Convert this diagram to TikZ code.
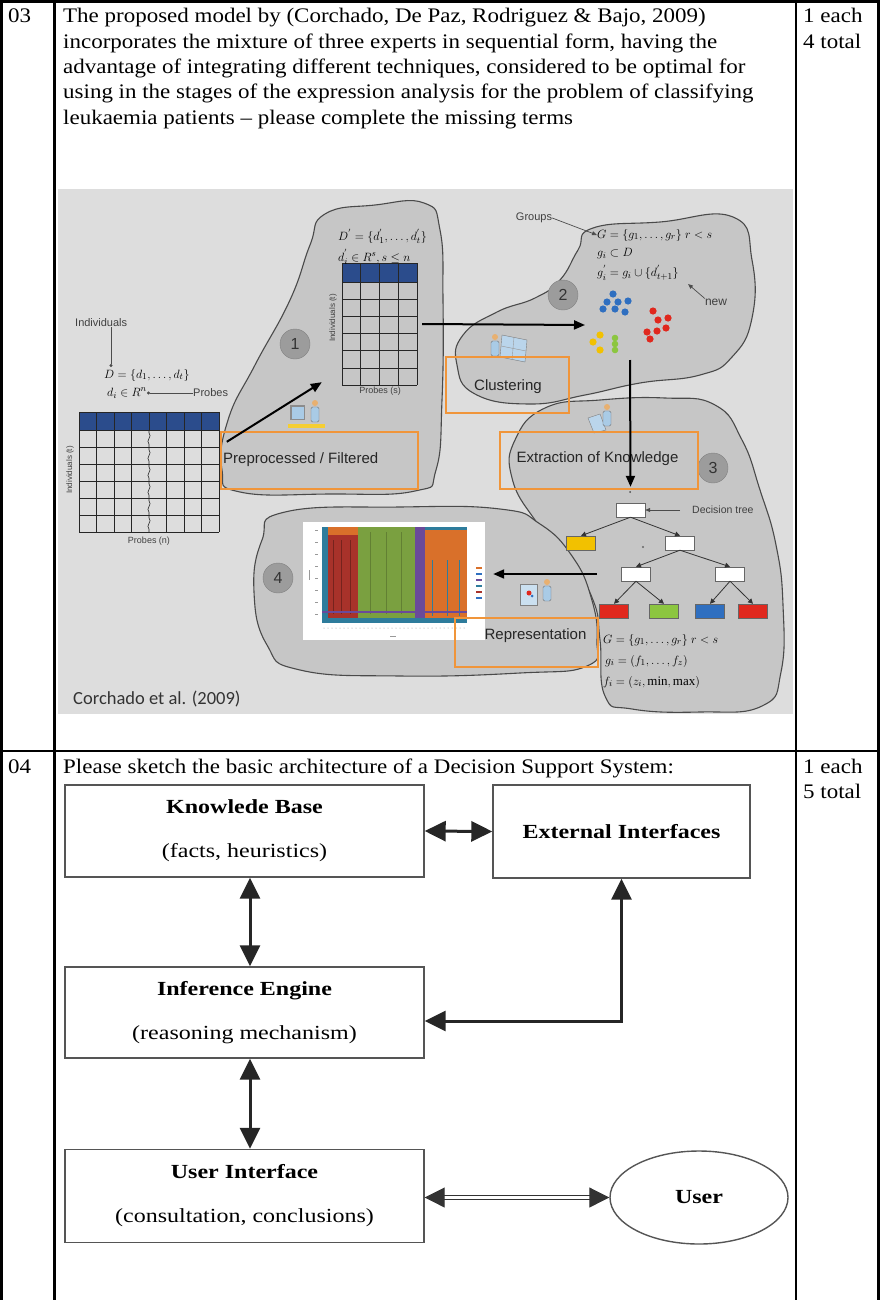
\documentclass[tikz,border=0pt]{standalone}
\usepackage{fontspec}
\setmainfont{Liberation Serif}
\setsansfont{Liberation Sans}
\newfontfamily\bodyfont{Liberation Serif}[FakeStretch=1.11]
\newfontfamily\dssfont{Liberation Serif}[FakeStretch=1.2]
\newfontfamily\creditfont{Carlito}
\usetikzlibrary{arrows.meta,shapes.geometric,positioning}

\definecolor{imgbg}{HTML}{DDDDDD}
\definecolor{blobfill}{HTML}{C6C6C6}
\definecolor{blobline}{HTML}{4A4A4A}
\definecolor{hilite}{HTML}{F0953A}
\definecolor{hdrblue}{HTML}{2B4C8C}
\definecolor{stepgray}{HTML}{9C9C9C}
\definecolor{boxline}{HTML}{555555}
\definecolor{iconblue}{HTML}{A9CBE6}
\definecolor{iconskin}{HTML}{E8B070}
\definecolor{leafred}{HTML}{E0281E}
\definecolor{leafgreen}{HTML}{8CC640}
\definecolor{leafblue}{HTML}{2F6FC0}
\definecolor{leafyellow}{HTML}{F2C100}
\definecolor{heatteal}{HTML}{2E7C9C}
\definecolor{heatred}{HTML}{A8322A}
\definecolor{heatgreen}{HTML}{7AA040}
\definecolor{heatpurple}{HTML}{6A4A9A}
\definecolor{heatorange}{HTML}{D9702A}

\newcommand{\bodysize}{\fontsize{20.7}{25.3}\selectfont}

% small figure: head at (#1,#2)
\newcommand{\drawworker}[2]{%
  \fill[iconskin] (#1,#2) circle (3pt);
  \filldraw[fill=iconblue, draw=black!55, line width=0.4pt, rounded corners=1.5pt]
    ({#1-4},{#2+4}) rectangle ({#1+4},{#2+19});
}

\tikzset{
  rule/.style={line width=2.7pt},
  blob/.style={fill=blobfill, draw=blobline, line width=1.1pt},
  marker/.style={circle, fill=stepgray, draw=gray, minimum size=30pt, inner sep=0pt,
    font=\sffamily\fontsize{16}{16}\selectfont, text=black!80},
  orangebox/.style={draw=hilite, line width=2.4pt},
  small/.style={font=\sffamily\fontsize{11}{12}\selectfont, text=black!75, inner sep=0pt},
  stage/.style={font=\sffamily\fontsize{15}{16}\selectfont, text=black!85, inner sep=0pt},
  formula/.style={font=\fontsize{13}{15}\selectfont, inner sep=0pt, anchor=west},
  flow/.style={-{Triangle[length=11pt,width=9pt]}, line width=2pt},
  thin flow/.style={-{Triangle[length=5pt,width=4pt]}, line width=0.7pt, black!70},
  dot flow/.style={-{Circle[length=3pt]}, line width=0.7pt, black!70},
  treebox/.style={draw=black!60, fill=white, minimum width=29pt, minimum height=14pt, inner sep=0pt},
  treeedge/.style={-{Triangle[length=5pt,width=5pt]}, line width=0.8pt, black!80},
  dssbox/.style={draw=boxline, line width=1.4pt, align=center,
    font=\dssfont\fontsize{20}{44}\selectfont},
  dssarrow/.style={{Triangle[length=21pt,width=20pt]}-{Triangle[length=21pt,width=20pt]},
    line width=3pt, black!85},
  dsspipe/.style={{Triangle[length=20pt,width=20pt]}-{Triangle[length=20pt,width=20pt]},
    double=white, double distance=2.4pt, line width=1pt, black!80},
}

\begin{document}
\begin{tikzpicture}[x=1pt, y=-1pt]
\useasboundingbox (0,0) rectangle (880,1300);

% Table rules
\draw[rule] (1.3,1300) -- (1.3,1.3) -- (878.5,1.3) -- (878.5,1300);
\draw[rule] (54.5,1.3) -- (54.5,1300);
\draw[rule] (796,1.3) -- (796,1300);
\draw[rule] (1.3,751) -- (878.5,751);

% Question 03 (multi-line nodes sit on their last baseline)
\node (q3) [anchor=base west, inner sep=0pt, font=\bodyfont\bodysize] at (8,23) {03};
\node (q3text) [anchor=base west, align=left, inner sep=0pt, font=\bodyfont\bodysize] at (63,124.2)
  {The proposed model by (Corchado, De Paz, Rodriguez \& Bajo, 2009)\\
   incorporates the mixture of three experts in sequential form, having the\\
   advantage of integrating different techniques, considered to be optimal for\\
   using in the stages of the expression analysis for the problem of classifying\\
   leukaemia patients – please complete the missing terms};
\node (q3marks) [anchor=base west, align=left, inner sep=0pt, font=\bodyfont\bodysize] at (803,48.3)
  {1 each\\4 total};

% Figure background and stages
\fill[imgbg] (58,189) rectangle (793,714);

\draw[blob] plot[smooth cycle, tension=0.8] coordinates {(325,214) (375,205) (424,203) (440,230)
  (443,300) (442,400) (436,470) (415,491) (330,494) (240,492) (222,470) (228,420) (255,365)
  (290,300) (310,245)};
\draw[blob] plot[smooth cycle, tension=0.8] coordinates {(593,228) (660,222) (733,217) (752,260)
  (752,318) (732,357) (700,375) (640,383) (585,395) (530,404) (475,394) (457,365) (463,335)
  (497,312) (535,298) (560,280) (578,250)};
\draw[blob] plot[smooth cycle, tension=0.8] coordinates {(515,440) (545,408) (600,400) (665,398)
  (715,405) (742,440) (760,490) (776,545) (783,605) (781,672) (762,706) (700,712) (632,709)
  (605,696) (600,640) (593,600) (568,558) (535,520) (512,478)};
\draw[blob] plot[smooth cycle, tension=0.8] coordinates {(285,512) (400,507) (500,509) (540,524)
  (572,556) (591,597) (597,640) (587,666) (520,673) (400,676) (300,670) (267,645) (254,592)
  (262,540)};

\node (m1) [marker] at (295,344) {1};
\node (m2) [marker] at (563,295) {2};
\node (m3) [marker] at (713,468) {3};
\node (m4) [marker] at (278,578) {4};

% Raw data table
\fill[hdrblue] (79,412) rectangle (219,430);
\foreach \r in {0,...,6}
  \draw[black!85, line width=0.9pt] (79,{430+17*\r}) -- (219,{430+17*\r});
\draw[black!85, line width=0.9pt] (79,412) -- (219,412);
\foreach \c in {0,1,2,3,5,6,7,8}
  \draw[black!85, line width=0.9pt] ({79+17.5*\c},412) -- ({79+17.5*\c},532);
\draw[black!85, line width=0.6pt] (149,412) -- (149,430);
\foreach \r in {0,...,5}
  \draw[black!85, line width=0.6pt] (149,{430+17*\r}) -- (149,{433+17*\r})
    .. controls (153,{436+17*\r}) and (145,{441+17*\r}) .. (149,{444+17*\r}) -- (149,{447+17*\r});
\node (tab1) [minimum width=140pt, minimum height=120pt, inner sep=0pt] at (149,472) {};
\node (tab1rows) [small, rotate=90, font=\sffamily\fontsize{8}{8}\selectfont] at (70,470) {Individuals (t)};
\node (tab1cols) [small, font=\sffamily\fontsize{9}{9}\selectfont] at (149,541) {Probes (n)};

\node (indiv) [small, anchor=west] at (75,323) {Individuals};
\node (dset) [formula] at (104,375) {$D = \{d_1,\ldots,d_t\}$};
\node (delem) [formula] at (107,393) {$d_i \in R^n$};
\node (probes) [small, anchor=west] at (193,393) {Probes};
\draw[dot flow] (indiv.south west -| 111,0) -- (111,367);
\draw[dot flow] (probes.west) -- (delem.east);

% Filtered table
\fill[hdrblue] (342,263) rectangle (417,282);
\foreach \r in {0,...,6}
  \draw[black!85, line width=0.9pt] (342,{282+17.2*\r}) -- (417,{282+17.2*\r});
\draw[black!85, line width=0.9pt] (342,263) -- (417,263);
\foreach \c in {0,...,4}
  \draw[black!85, line width=0.9pt] ({342+18.75*\c},263) -- ({342+18.75*\c},385.2);
\node (tab2) [minimum width=75pt, minimum height=122pt, inner sep=0pt] at (379.5,324) {};
\node (tab2rows) [small, rotate=90, font=\sffamily\fontsize{8}{8}\selectfont] at (333,318) {Individuals (t)};
\node (tab2cols) [small, font=\sffamily\fontsize{9}{9}\selectfont] at (380,391) {Probes (s)};
\node (dset2) [formula] at (338,236) {$D^{'} = \{d^{'}_1,\ldots,d^{'}_t\}$};
\node (delem2) [formula] at (338,257) {$d^{'}_i \in R^s, s \le n$};

% Clusters
\foreach \p in {(613,294),(607,302),(618,302),(628,301),(603,309),(615,309),(625,312)}
  \fill[leafblue] \p circle (3.6pt);
\foreach \p in {(653,311),(658,320),(668,318),(647,332),(657,331),(666,328),(650,339)}
  \fill[leafred] \p circle (3.6pt);
\foreach \p in {(600,335),(593,342),(600,350)}
  \fill[leafyellow] \p circle (3.6pt);
\foreach \p in {(615,338),(615,344),(615,350)}
  \fill[leafgreen] \p circle (3.3pt);
\coordinate (clusters) at (630,360);
\coordinate (clusters in) at (585,325);

\node (groups) [small] at (534,218) {Groups};
\node (gset) [formula] at (597,235) {$G = \{g_1,\ldots,g_r\}\; r < s$};
\node (gsub) [formula] at (597,254) {$g_i \subset D$};
\node (gnew) [formula] at (597,273) {$g^{'}_i = g_i \cup \{d^{'}_{t+1}\}$};
\node (new) [small, font=\sffamily\fontsize{12}{12}\selectfont] at (716,302) {new};
\draw[thin flow] (groups.east) -- (gset.west);
\draw[thin flow] (new.north west) -- (688,284);

% Decision tree
\node (root) [treebox] at (630.5,510) {};
\node (ty) [treebox, fill=leafyellow] at (581,543) {};
\node (tr) [treebox] at (680,543) {};
\node (tl2) [treebox] at (636,574) {};
\node (tr2) [treebox] at (730,574) {};
\node (c1) [treebox, fill=leafred] at (614,611) {};
\node (c2) [treebox, fill=leafgreen] at (664,611) {};
\node (c3) [treebox, fill=leafblue] at (710,611) {};
\node (c4) [treebox, fill=leafred] at (753,611) {};
\fill[black!60] (643,547) circle (1.2pt);
\draw[treeedge] (root.south) -- (ty.north);
\draw[treeedge] (root.south) -- (tr.north);
\draw[treeedge] (tr.south) -- (tl2.north);
\draw[treeedge] (tr.south) -- (tr2.north);
\draw[treeedge] (tl2.south) -- (c1.north);
\draw[treeedge] (tl2.south) -- (c2.north);
\draw[treeedge] (tr2.south) -- (c3.north);
\draw[treeedge] (tr2.south) -- (c4.north);
\node (treelabel) [small, anchor=west, font=\sffamily\fontsize{10.5}{11}\selectfont] at (692,510) {Decision tree};
\draw[thin flow] ([xshift=-12pt]treelabel.west) -- (root.east);

\node (rset) [formula] at (603,640) {$G = \{g_1,\ldots,g_r\}\; r < s$};
\node (rgrp) [formula] at (605,661) {$g_i = (f_1,\ldots,f_z)$};
\node (rfeat) [formula] at (603,682) {$f_i = (z_i, \min, \max)$};

% Result plot
\node (plot) [fill=white, minimum width=182pt, minimum height=118pt, inner sep=0pt] at (394,581) {};
\fill[heatteal] (322,527) rectangle (467,623);
\fill[heatorange] (328,527) rectangle (358,535);
\fill[heatred] (328,535) rectangle (358,618);
\fill[heatgreen] (358,527) rectangle (415,618);
\fill[heatpurple] (415,527) rectangle (425,618);
\fill[heatorange] (425,530) rectangle (467,618);
\foreach \x in {333,341,350}
  \draw[heatred!70!black, line width=0.8pt] (\x,540) -- (\x,614);
\foreach \x in {370,386,401}
  \draw[heatgreen!80!black, line width=0.5pt] (\x,532) -- (\x,614);
\foreach \x in {432,447,459}
  \draw[heatteal, line width=1pt] (\x,560) -- (\x,616);
\draw[heatpurple, line width=2pt] (322,612) -- (467,612);
\foreach \y in {530,542,...,620}
  \draw[black!40, line width=0.4pt] (315,\y) -- (318,\y);
\foreach \x in {324,328,...,466}
  \fill[black!40] (\x,628) circle (0.5pt);
\draw[black!40, line width=0.5pt] (309,570) -- (309,580);
\draw[black!40, line width=0.5pt] (390,636) -- (396,636);
\foreach \y/\c in {568/heatorange,574/leafblue,580/heatpurple,586/heatteal,592/heatred,598/leafblue}
  \draw[\c, line width=1.2pt] (476,\y) -- (482,\y);

% Figures at work
\fill[black!45] (290,405) rectangle (305,420);
\fill[iconblue] (291.5,406.5) rectangle (303.5,418.5);
\drawworker{315}{403}
\fill[leafyellow!80!white] (288,424) rectangle (325,428);
\filldraw[fill=iconblue!80, draw=black!50, line width=0.4pt] (502,335) -- (527,340) -- (525,362) -- (500,357) -- cycle;
\draw[black!40, line width=0.4pt] (514,337) -- (512,360) (501,346) -- (526,351);
\drawworker{495}{337}
\filldraw[fill=iconblue!80, draw=black!50, line width=0.4pt] (588,418) -- (600,414) -- (606,430) -- (594,433) -- cycle;
\drawworker{607}{407}
\filldraw[fill=iconblue!60, draw=black!50, line width=0.4pt] (520,584) rectangle (537,605);
\fill[leafred] (529,593) circle (2.5pt);
\fill[leafblue] (532,596) circle (1.5pt);
\drawworker{547}{582}

% Stage labels
\node (prebox) [orangebox, minimum width=197pt, minimum height=57pt, inner sep=0pt] at (319.5,460.5) {};
\node (pre) [stage, anchor=west] at (223,460) {Preprocessed / Filtered};
\node (clubox) [orangebox, minimum width=123pt, minimum height=56pt, inner sep=0pt] at (507.5,385) {};
\node (clu) [stage] at (508,387) {Clustering};
\node (extbox) [orangebox, minimum width=198pt, minimum height=57pt, inner sep=0pt] at (599,460.5) {};
\node (ext) [stage] at (597.5,459) {Extraction of Knowledge};
\node (repbox) [orangebox, minimum width=143pt, minimum height=49pt, inner sep=0pt] at (526.5,642.5) {};
\node (rep) [stage] at (535.5,636) {Representation};

% Arrows
\draw[flow] ([shift={(7,11)}]prebox.north west) -- ([shift={(-20,-3)}]tab2.south west);
\draw[flow] ([xshift=5pt]tab2.east) -- (clusters in);
\draw[flow] (clusters) -- ([yshift=16pt]root.north);
\fill[black!70] (630,492) circle (1pt);
\draw[flow] (tl2.west -| 597,0) -- ([xshift=8pt]plot.east |- tl2.west);

\node (credit) [anchor=base west, inner sep=0pt, text=black!80, font=\creditfont\fontsize{18.5}{20}\selectfont] at (73,704) {Corchado et al. (2009)};

% Question 04
\node (q4) [anchor=base west, inner sep=0pt, font=\bodyfont\bodysize] at (8,773) {04};
\node (q4text) [anchor=base west, inner sep=0pt, font=\bodyfont\bodysize] at (63,773)
  {Please sketch the basic architecture of a Decision Support System:};
\node (q4marks) [anchor=base west, align=left, inner sep=0pt, font=\bodyfont\bodysize] at (803,798.3)
  {1 each\\5 total};

% Nodes
\node (kb) [dssbox, minimum width=359pt, minimum height=92pt] at (244.5,831) {\textbf{Knowlede Base}\\(facts, heuristics)};
\node (ei) [dssbox, minimum width=257pt, minimum height=93pt] at (621.5,831.5) {\textbf{External Interfaces}};
\node (ie) [dssbox, minimum width=359pt, minimum height=91pt] at (244.5,1012.5) {\textbf{Inference Engine}\\(reasoning mechanism)};
\node (ui) [dssbox, minimum width=359pt, minimum height=93pt] at (244.5,1196) {\textbf{User Interface}\\(consultation, conclusions)};
\node (user) [dssbox, ellipse, minimum width=178pt, minimum height=93pt] at (699,1197.5) {\textbf{User}};

% Arrows
\draw[dssarrow] (kb.east) -- (ei.west);
\draw[dssarrow] ([xshift=5.5pt]kb.south) -- ([xshift=5.5pt]ie.north);
\draw[dssarrow] (ei.south) |- ([yshift=-8.5pt]ie.east);
\draw[dssarrow] ([xshift=5.5pt]ie.south) -- ([xshift=5.5pt]ui.north);
\draw[dsspipe] (ui.east |- user.west) -- (user.west);
\end{tikzpicture}
\end{document}
